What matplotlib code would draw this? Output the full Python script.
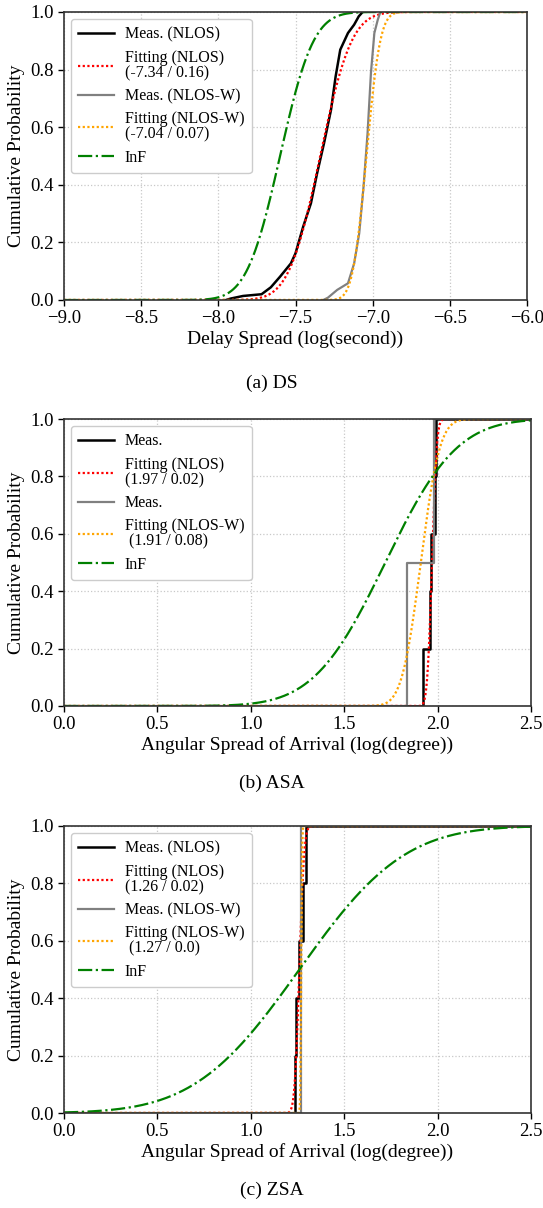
import math
import numpy as np
import matplotlib
matplotlib.use("Agg")
import matplotlib.pyplot as plt

plt.rcParams['font.family'] = ['Liberation Serif', 'DejaVu Serif']
plt.rcParams['mathtext.fontset'] = 'stix'

# ---------------- data ----------------
# (a) DS - measured empirical CDFs (log10 seconds)
ds_nlos_x = [-7.95, -7.92, -7.84, -7.72, -7.66, -7.60, -7.53, -7.50, -7.45, -7.40,
             -7.36, -7.315, -7.27, -7.24, -7.21, -7.16, -7.12, -7.09, -7.065]
ds_nlos_y = [0.0, 0.005, 0.014, 0.02, 0.044, 0.081, 0.127, 0.162, 0.255, 0.336,
             0.44, 0.545, 0.66, 0.776, 0.869, 0.927, 0.956, 0.985, 1.0]
ds_nlosw_x = [-7.32, -7.29, -7.23, -7.16, -7.12, -7.087, -7.059, -7.033, -7.011,
              -6.989, -6.967, -6.95]
ds_nlosw_y = [0.0, 0.008, 0.035, 0.058, 0.127, 0.232, 0.394, 0.58, 0.79,
              0.927, 0.973, 1.0]

# (b) ASA - measured samples (log10 degree)
asa_nlos_samples = [1.923, 1.958, 1.962, 1.986, 1.991]
asa_nlosw_samples = [1.834, 1.979]

# (c) ZSA - measured samples (log10 degree)
zsa_nlos_samples = [1.237, 1.241, 1.257, 1.279, 1.295]
zsa_nlosw_samples = [1.270, 1.271]

# fitted / model normal distributions: (mu, sigma)
ds_fit_nlos = (-7.34, 0.16)
ds_fit_nlosw = (-7.04, 0.07)
ds_inf = (-7.60, 0.17)
asa_fit_nlos = (1.97, 0.02)
asa_fit_nlosw = (1.91, 0.08)
asa_inf = (1.72, 0.30)
zsa_fit_nlos = (1.26, 0.02)
zsa_fit_nlosw = (1.27, 0.004)
zsa_inf = (1.26, 0.44)

ds_labels = ["Meas. (NLOS)", "Fitting (NLOS)\n(-7.34 / 0.16)", "Meas. (NLOS-W)",
             "Fitting (NLOS-W)\n(-7.04 / 0.07)", "InF"]
asa_labels = ["Meas.", "Fitting (NLOS)\n(1.97 / 0.02)", "Meas.",
              "Fitting (NLOS-W)\n (1.91 / 0.08)", "InF"]
zsa_labels = ["Meas. (NLOS)", "Fitting (NLOS)\n(1.26 / 0.02)", "Meas. (NLOS-W)",
              "Fitting (NLOS-W)\n (1.27 / 0.0)", "InF"]

xlabels = ["Delay Spread (log(second))", "Angular Spread of Arrival (log(degree))",
           "Angular Spread of Arrival (log(degree))"]
captions = ["(a) DS", "(b) ASA", "(c) ZSA"]
xlims = [(-9.0, -6.0), (0.0, 2.5), (0.0, 2.5)]
xticks = [[-9.0, -8.5, -8.0, -7.5, -7.0, -6.5, -6.0],
          [0.0, 0.5, 1.0, 1.5, 2.0, 2.5],
          [0.0, 0.5, 1.0, 1.5, 2.0, 2.5]]
yticks = [0.0, 0.2, 0.4, 0.6, 0.8, 1.0]


def norm_cdf(x, mu, sigma):
    erf = np.vectorize(math.erf)
    return 0.5 * (1.0 + erf((x - mu) / (sigma * math.sqrt(2.0))))


def ecdf_xy(samples, lo, hi):
    s = sorted(samples)
    n = len(s)
    xs = [lo] + s + [hi]
    ys = [0.0] + [(i + 1) / n for i in range(n)] + [1.0]
    return xs, ys


fig = plt.figure(figsize=(5.43, 12.08), dpi=100)
W, H = 543.0, 1208.0
boxes = [(64, 527, 12, 300), (64, 531, 419, 706), (64, 531, 826, 1113)]
cap_y = [383, 783, 1190]

BLACK_KW = dict(color='black', lw=1.8)
GRAY_KW = dict(color='gray', lw=1.6)
RED_KW = dict(color='red', lw=1.6, linestyle=(0, (1, 1.1)))
ORANGE_KW = dict(color='orange', lw=1.6, linestyle=(0, (1, 1.1)))
GREEN_KW = dict(color='green', lw=1.6, linestyle='-.')

for i in range(3):
    l, r, t, b = boxes[i]
    ax = fig.add_axes([l / W, 1 - b / H, (r - l) / W, (b - t) / H])
    lo, hi = xlims[i]
    xg = np.linspace(lo, hi, 1500)
    if i == 0:
        labels = ds_labels
        ax.plot(ds_nlos_x, ds_nlos_y, label=labels[0], **BLACK_KW)
        ax.plot(xg, norm_cdf(xg, *ds_fit_nlos), label=labels[1], **RED_KW)
        ax.plot(ds_nlosw_x, ds_nlosw_y, label=labels[2], **GRAY_KW)
        ax.plot(xg, norm_cdf(xg, *ds_fit_nlosw), label=labels[3], **ORANGE_KW)
        ax.plot(xg, norm_cdf(xg, *ds_inf), label=labels[4], **GREEN_KW)
    else:
        if i == 1:
            labels = asa_labels
            m1, f1, m2, f2, inf = (asa_nlos_samples, asa_fit_nlos,
                                   asa_nlosw_samples, asa_fit_nlosw, asa_inf)
        else:
            labels = zsa_labels
            m1, f1, m2, f2, inf = (zsa_nlos_samples, zsa_fit_nlos,
                                   zsa_nlosw_samples, zsa_fit_nlosw, zsa_inf)
        x1, y1 = ecdf_xy(m1, lo, hi)
        x2, y2 = ecdf_xy(m2, lo, hi)
        ax.plot(x1, y1, drawstyle='steps-post', label=labels[0], **BLACK_KW)
        ax.plot(xg, norm_cdf(xg, *f1), label=labels[1], **RED_KW)
        ax.plot(x2, y2, drawstyle='steps-post', label=labels[2], **GRAY_KW)
        ax.plot(xg, norm_cdf(xg, *f2), label=labels[3], **ORANGE_KW)
        ax.plot(xg, norm_cdf(xg, *inf), label=labels[4], **GREEN_KW)

    ax.set_xlim(lo, hi)
    ax.set_ylim(0.0, 1.0)
    ax.set_xticks(xticks[i])
    ax.set_yticks(yticks)
    ax.grid(True, linestyle=':', color='#c8c8c8', lw=0.9)
    ax.tick_params(labelsize=13.5, direction='out', length=4, width=1.0)
    for sp in ax.spines.values():
        sp.set_linewidth(1.2)
        sp.set_color('#333333')
    ax.set_ylabel("Cumulative Probability", fontsize=14, labelpad=4)
    ax.set_xlabel(xlabels[i], fontsize=14, labelpad=2)
    leg = ax.legend(loc='upper left', fontsize=11.5, handlelength=2.2,
                    handletextpad=0.7, labelspacing=0.45, borderpad=0.45,
                    framealpha=1.0, edgecolor='#cccccc', fancybox=True,
                    borderaxespad=0.45)
    for txt in leg.get_texts():
        txt.set_linespacing(0.95)
    fig.text(0.5, 1 - cap_y[i] / H, captions[i], ha='center', va='center',
             fontsize=14)

fig.savefig("out.png", dpi=100)
